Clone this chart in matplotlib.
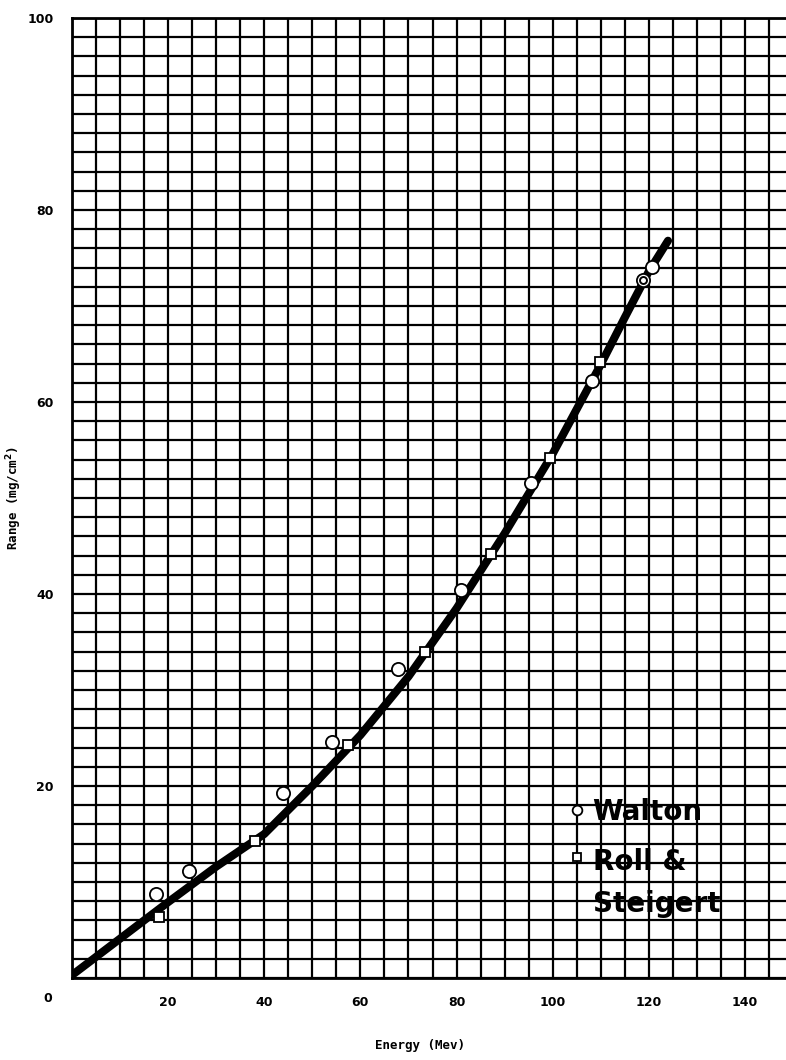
# Range-energy chart (scanned graph paper style)
# -----------------------------------------------------------------------------

import numpy as np
import matplotlib.pyplot as plt
from matplotlib.ticker import MultipleLocator, FuncFormatter


# Data
# -----------------------------------------------------------------------------

# smooth curve drawn through the measurements (Energy in Mev, Range in mg/cm2)
curve_energy = [0, 10, 20, 30, 40, 50, 60, 70, 80, 90, 100, 110, 115, 120, 124]
curve_range = [0.3, 4.1, 7.9, 11.6, 15.0, 20.0, 25.3, 31.4, 38.5, 46.3, 54.6,
               63.9, 68.8, 73.6, 76.8]

walton_energy = [17.5, 24.3, 43.9, 54.1, 67.8, 81.0, 95.5, 108.2, 118.8, 120.7]
walton_range = [8.75, 11.15, 19.3, 24.6, 32.2, 40.4, 51.6, 62.2, 72.7, 74.1]

roll_energy = [18.1, 38.1, 57.4, 73.4, 87.2, 99.4, 109.8]
roll_range = [6.35, 14.3, 24.3, 34.0, 44.2, 54.2, 64.2]

# the Walton point at ~119 Mev is drawn as a ring with a second ring in it
ring_energy = [118.8]
ring_range = [72.7]

x_labels = [20, 40, 60, 80, 100, 120, 140]
y_labels = [20, 40, 60, 80, 100]

legend_lines = ["Walton", "Roll &", "Steigert"]


# Figure
# -----------------------------------------------------------------------------

fig = plt.figure(figsize=(7.86, 10.6), dpi=100)
ax = fig.add_axes([72/786, 82/1060, 721/786, 960/1060])

ax.set_xlim(0, 150)
ax.set_ylim(0, 100)

# graph paper
ax.xaxis.set_major_locator(MultipleLocator(5))
ax.yaxis.set_major_locator(MultipleLocator(2))
ax.grid(True, color="black", linewidth=1.6)
ax.set_axisbelow(True)
for s in ax.spines.values():
    s.set_linewidth(2.0)

ax.xaxis.set_major_formatter(FuncFormatter(
    lambda v, p: f"{int(round(v))}" if int(round(v)) in x_labels else ""))
ax.yaxis.set_major_formatter(FuncFormatter(
    lambda v, p: f"{int(round(v))}" if int(round(v)) in y_labels else ""))
ax.tick_params(length=0, labelsize=9, pad=13)
for lab in ax.get_xticklabels() + ax.get_yticklabels():
    lab.set_fontweight("bold")
ax.text(-5, -1.5, "0", ha="center", va="top", fontsize=9, fontweight="bold",
        clip_on=False)

ax.set_xlabel("Energy (Mev)", fontsize=9, fontweight="bold",
              family="DejaVu Sans Mono")
ax.set_ylabel("Range (mg/cm$^\\mathbf{2}$)", fontsize=9, fontweight="bold",
              family="DejaVu Sans Mono")
ax.xaxis.set_label_coords(0.483, -0.064)
ax.yaxis.set_label_coords(-0.066, 0.5)

# curve
ax.plot(curve_energy, curve_range, color="black", linewidth=5.8,
        solid_capstyle="round", zorder=3)

# measurements
ax.plot(walton_energy, walton_range, linestyle="none", marker="o",
        markersize=9.5, markerfacecolor="white", markeredgecolor="black",
        markeredgewidth=1.3, zorder=4)
ax.plot(ring_energy, ring_range, linestyle="none", marker="o",
        markersize=5, markerfacecolor="white", markeredgecolor="black",
        markeredgewidth=1.4, zorder=5)
ax.plot(roll_energy, roll_range, linestyle="none", marker="s",
        markersize=7, markerfacecolor="white", markeredgecolor="black",
        markeredgewidth=1.3, zorder=4)

# hand lettered legend
ax.plot([0.7], [0.175], transform=ax.transAxes, marker="o", markersize=7,
        markerfacecolor="white", markeredgecolor="black", markeredgewidth=1.3,
        linestyle="none", zorder=6)
ax.plot([0.701], [0.126], transform=ax.transAxes, marker="s", markersize=6,
        markerfacecolor="white", markeredgecolor="black", markeredgewidth=1.3,
        linestyle="none", zorder=6)
for name, ypos in zip(legend_lines, [0.173, 0.121, 0.077]):
    ax.text(0.722, ypos, name, transform=ax.transAxes, fontsize=20,
            fontweight="bold", va="center", ha="left", zorder=6)

fig.savefig("out.png", dpi=100)
